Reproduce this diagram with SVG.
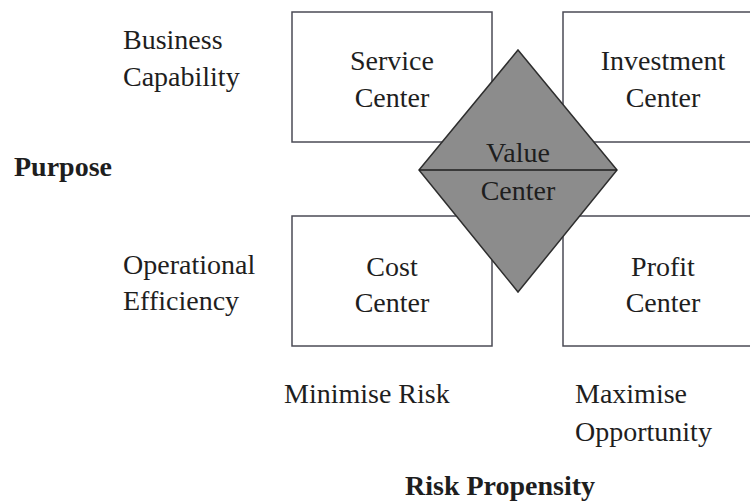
<svg xmlns="http://www.w3.org/2000/svg" width="750" height="503" viewBox="0 0 750 503">
  <style>
    .box { fill: #ffffff; stroke: #4b4b55; stroke-width: 1.5; }
    .diamond { fill: #8c8c8c; stroke: #2e2e2e; stroke-width: 1.5; }
    .divider { stroke: #1e1e1e; stroke-width: 1.5; }
    text { font-family: "Liberation Serif", "Times New Roman", serif; font-size: 28px; fill: #1e1e1e; }
    .c { text-anchor: middle; }
    .b { font-weight: bold; }
  </style>
  <rect width="750" height="503" fill="#ffffff"/>

  <!-- quadrant boxes -->
  <g id="service-center">
    <rect class="box" x="292" y="12" width="200" height="130"/>
    <text class="c" x="392" y="70">Service</text>
    <text class="c" x="392" y="107">Center</text>
  </g>
  <g id="investment-center">
    <rect class="box" x="563" y="12" width="200" height="130"/>
    <text class="c" x="663" y="70">Investment</text>
    <text class="c" x="663" y="107">Center</text>
  </g>
  <g id="cost-center">
    <rect class="box" x="292" y="216" width="200" height="130"/>
    <text class="c" x="392" y="276">Cost</text>
    <text class="c" x="392" y="312">Center</text>
  </g>
  <g id="profit-center">
    <rect class="box" x="563" y="216" width="200" height="130"/>
    <text class="c" x="663" y="276">Profit</text>
    <text class="c" x="663" y="312">Center</text>
  </g>

  <!-- central diamond -->
  <g id="value-center">
    <polygon class="diamond" points="518,50 617,170 518,292 419,170"/>
    <line class="divider" x1="419" y1="170" x2="617" y2="170"/>
    <text class="c" x="518" y="162">Value</text>
    <text class="c" x="518" y="200">Center</text>
  </g>

  <g id="connectors"></g>

  <!-- axis labels -->
  <g id="purpose-axis">
    <text x="123" y="49">Business</text>
    <text x="123" y="86">Capability</text>
    <text class="b" x="14" y="176">Purpose</text>
    <text x="123" y="274">Operational</text>
    <text x="123" y="310">Efficiency</text>
  </g>
  <g id="risk-axis">
    <text x="284" y="403">Minimise Risk</text>
    <text x="575" y="403">Maximise</text>
    <text x="575" y="441">Opportunity</text>
    <text class="b" x="405" y="495">Risk Propensity</text>
  </g>
</svg>
